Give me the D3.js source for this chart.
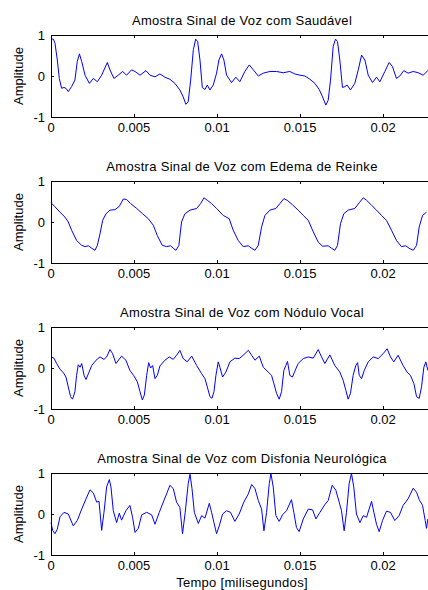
<!DOCTYPE html>
<html>
<head>
<meta charset="utf-8" />
<title>Amostras de sinal de voz</title>
<style>
  body { margin: 0; background: #fff; }
  svg text { font-family: "Liberation Sans", Arial, Helvetica, sans-serif; font-size: 13px; fill: #000; }
  svg text.titulo { letter-spacing: 0.3px; }
</style>
</head>
<body>
<svg width="428" height="590"></svg>
<script src="https://cdn.jsdelivr.net/npm/d3@7/dist/d3.min.js"></script>
<script>
// tempo em ms, amplitude
var saudavel = [[0,0.90],[0.14,0.90],[0.24,0.80],[0.38,0.39],[0.50,-0.06],[0.64,-0.30],[0.78,-0.28],[0.90,-0.30],[1.04,-0.38],[1.24,-0.26],[1.44,-0.10],[1.58,0.35],[1.71,0.54],[1.85,0.35],[2.05,0.02],[2.31,-0.18],[2.55,-0.06],[2.79,-0.14],[3.05,0.02],[3.39,0.33],[3.55,0.15],[3.79,-0.06],[4.05,0.02],[4.31,0.11],[4.55,0.02],[4.85,0.15],[5.06,0.11],[5.36,0.02],[5.72,0.13],[5.96,0.02],[6.26,-0.02],[6.56,0.05],[6.86,-0.03],[7.16,-0.08],[7.46,-0.18],[7.76,-0.34],[7.96,-0.51],[8.12,-0.69],[8.26,-0.63],[8.41,-0.10],[8.57,0.64],[8.71,0.90],[8.83,0.84],[8.97,0.39],[9.11,-0.28],[9.27,-0.33],[9.41,-0.22],[9.57,-0.34],[9.77,-0.22],[9.97,0.07],[10.11,0.39],[10.27,0.54],[10.41,0.39],[10.57,0.02],[10.87,-0.16],[11.13,-0.03],[11.37,-0.14],[11.67,0.11],[11.94,0.27],[12.18,0.15],[12.48,0.0],[12.78,0.07],[13.18,0.11],[13.58,0.11],[13.98,0.08],[14.38,0.11],[14.68,0.05],[14.99,0.02],[15.29,0.0],[15.59,-0.08],[15.89,-0.18],[16.15,-0.33],[16.35,-0.51],[16.55,-0.71],[16.69,-0.59],[16.83,-0.10],[16.99,0.72],[17.13,0.90],[17.25,0.84],[17.39,0.39],[17.55,-0.28],[17.69,-0.26],[17.83,-0.22],[18.03,-0.34],[18.29,-0.18],[18.50,0.15],[18.70,0.51],[18.90,0.39],[19.10,0.02],[19.36,-0.16],[19.60,-0.03],[19.80,-0.14],[20.10,0.11],[20.36,0.33],[20.56,0.23],[20.80,-0.06],[21.00,0.0],[21.24,0.13],[21.50,0.07],[21.81,0.11],[22.11,0.08],[22.41,0.02],[22.69,0.13]];

var edema = [[0,0.47],[0.24,0.37],[0.54,0.24],[0.84,0.12],[1.04,0.0],[1.24,-0.20],[1.54,-0.45],[1.85,-0.57],[2.05,-0.60],[2.25,-0.58],[2.45,-0.64],[2.65,-0.69],[2.79,-0.57],[2.95,-0.29],[3.11,0.04],[3.31,0.20],[3.55,0.29],[3.85,0.30],[4.11,0.38],[4.35,0.56],[4.55,0.55],[4.79,0.45],[5.16,0.33],[5.52,0.20],[5.86,0.08],[6.16,-0.08],[6.40,-0.33],[6.70,-0.57],[6.96,-0.60],[7.20,-0.58],[7.36,-0.64],[7.52,-0.69],[7.70,-0.57],[7.86,0.0],[8.06,0.20],[8.37,0.29],[8.77,0.33],[9.01,0.45],[9.21,0.59],[9.41,0.53],[9.67,0.45],[9.97,0.33],[10.37,0.16],[10.73,0.08],[10.97,-0.20],[11.27,-0.45],[11.57,-0.60],[11.88,-0.58],[12.08,-0.64],[12.28,-0.69],[12.48,-0.57],[12.68,-0.12],[12.88,0.16],[13.18,0.29],[13.54,0.33],[13.78,0.45],[14.02,0.57],[14.22,0.53],[14.54,0.42],[14.88,0.29],[15.19,0.16],[15.49,0.04],[15.79,-0.24],[16.09,-0.49],[16.35,-0.59],[16.69,-0.58],[16.89,-0.64],[17.09,-0.69],[17.25,-0.57],[17.43,-0.04],[17.63,0.20],[17.89,0.29],[18.29,0.33],[18.56,0.47],[18.80,0.59],[19.00,0.53],[19.30,0.41],[19.60,0.29],[19.90,0.16],[20.20,0.04],[20.50,-0.20],[20.80,-0.45],[21.10,-0.60],[21.36,-0.58],[21.56,-0.64],[21.81,-0.69],[22.01,-0.57],[22.17,-0.12],[22.37,0.16],[22.61,0.24]];

var nodulo = [[0,0.27],[0.18,0.24],[0.34,0.11],[0.54,-0.03],[0.74,-0.11],[0.90,-0.22],[1.04,-0.46],[1.18,-0.70],[1.30,-0.76],[1.44,-0.58],[1.54,-0.18],[1.64,0.08],[1.75,0.02],[1.85,0.11],[1.99,-0.18],[2.11,-0.28],[2.25,-0.14],[2.45,0.06],[2.71,0.19],[2.95,0.27],[3.19,0.21],[3.35,0.27],[3.55,0.45],[3.71,0.35],[3.91,0.11],[4.25,0.29],[4.51,0.19],[4.75,-0.06],[4.99,-0.19],[5.20,-0.34],[5.36,-0.58],[5.50,-0.78],[5.62,-0.66],[5.76,-0.18],[5.88,0.13],[6.00,0.0],[6.12,0.06],[6.26,-0.26],[6.40,-0.18],[6.56,0.05],[6.86,0.19],[7.12,0.27],[7.36,0.21],[7.56,0.31],[7.76,0.43],[7.96,0.23],[8.20,0.15],[8.47,0.29],[8.77,0.06],[9.07,-0.14],[9.27,-0.26],[9.41,-0.46],[9.57,-0.70],[9.69,-0.74],[9.81,-0.58],[9.93,-0.18],[10.07,0.15],[10.17,0.02],[10.33,-0.22],[10.53,-0.10],[10.77,0.15],[11.07,0.24],[11.33,0.23],[11.57,0.31],[11.88,0.43],[12.08,0.31],[12.28,0.19],[12.54,0.29],[12.78,0.02],[13.08,-0.10],[13.28,-0.18],[13.42,-0.38],[13.58,-0.62],[13.74,-0.76],[13.88,-0.58],[14.02,-0.06],[14.14,0.06],[14.24,0.16],[14.38,-0.18],[14.54,-0.22],[14.68,-0.08],[14.88,0.11],[15.19,0.23],[15.49,0.27],[15.79,0.24],[16.09,0.45],[16.29,0.27],[16.49,0.11],[16.79,0.32],[17.09,0.06],[17.39,-0.10],[17.59,-0.30],[17.75,-0.54],[17.89,-0.76],[18.03,-0.62],[18.19,-0.18],[18.35,0.06],[18.46,0.13],[18.56,-0.18],[18.70,-0.26],[18.86,-0.06],[19.10,0.15],[19.40,0.27],[19.70,0.23],[20.00,0.35],[20.24,0.47],[20.44,0.27],[20.64,0.15],[20.90,0.31],[21.20,0.06],[21.44,-0.10],[21.64,-0.18],[21.85,-0.38],[22.01,-0.70],[22.17,-0.74],[22.31,-0.46],[22.45,0.02],[22.57,0.15],[22.69,-0.06]];

var disfonia = [[0,-0.21],[0.10,-0.40],[0.24,-0.48],[0.38,-0.37],[0.54,-0.07],[0.78,0.04],[1.04,0.0],[1.34,-0.29],[1.58,-0.16],[1.85,0.12],[2.11,0.37],[2.35,0.59],[2.55,0.51],[2.75,0.29],[2.89,0.31],[3.05,-0.40],[3.19,0.04],[3.35,0.66],[3.51,0.84],[3.61,0.66],[3.75,0.08],[3.95,-0.21],[4.11,0.02],[4.25,-0.15],[4.51,0.08],[4.75,0.21],[4.91,-0.08],[5.06,-0.45],[5.26,-0.35],[5.46,-0.02],[5.76,0.04],[6.06,-0.02],[6.26,-0.25],[6.52,0.04],[6.76,0.29],[6.96,0.49],[7.16,0.70],[7.36,0.62],[7.56,0.29],[7.76,0.16],[7.92,-0.48],[8.08,0.04],[8.26,0.74],[8.37,0.97],[8.49,0.62],[8.63,0.04],[8.87,-0.23],[9.07,-0.04],[9.27,-0.10],[9.53,0.26],[9.67,0.04],[9.81,-0.21],[9.97,-0.48],[10.13,-0.29],[10.33,0.0],[10.57,0.08],[10.81,0.04],[11.07,-0.18],[11.33,0.0],[11.61,0.29],[11.88,0.49],[12.08,0.72],[12.28,0.62],[12.48,0.33],[12.68,0.12],[12.82,-0.41],[12.98,0.04],[13.14,0.74],[13.24,0.99],[13.38,0.66],[13.54,-0.04],[13.74,-0.18],[13.94,-0.02],[14.18,0.08],[14.48,0.35],[14.62,0.04],[14.78,-0.33],[14.94,-0.43],[15.19,-0.12],[15.49,0.12],[15.75,0.10],[15.95,-0.12],[16.19,0.04],[16.49,0.23],[16.69,0.33],[16.93,0.70],[17.15,0.58],[17.35,0.29],[17.49,0.08],[17.65,-0.41],[17.79,0.04],[17.95,0.74],[18.09,0.99],[18.23,0.66],[18.39,0.0],[18.60,-0.21],[18.80,-0.04],[19.00,-0.08],[19.30,0.31],[19.44,0.04],[19.60,-0.25],[19.76,-0.43],[19.96,-0.16],[20.20,0.07],[20.44,0.04],[20.70,-0.16],[20.96,-0.04],[21.20,0.21],[21.50,0.37],[21.81,0.63],[22.01,0.53],[22.17,0.35],[22.37,0.21],[22.53,-0.16],[22.61,-0.35],[22.69,-0.12]];

var titulos = [
    'Amostra Sinal de Voz com Saudável',
    'Amostra Sinal de Voz com Edema de Reinke',
    'Amostra Sinal de Voz com Nódulo Vocal',
    'Amostra Sinal de Voz com Disfonia Neurológica'
];
var sinais = [saudavel, edema, nodulo, disfonia];
var xTicks = [0, 0.005, 0.01, 0.015, 0.02];
var yTicks = [-1, 0, 1];

var esquerda = 51, largura = 382, altura = 82;
var topos = [35, 181, 327, 473];

var svg = d3.select('svg');

var x = d3.scaleLinear()
    .domain([0, 0.023])
    .range([esquerda, esquerda + largura]);

sinais.forEach(function (sinal, i) {
    var topo = topos[i];
    var y = d3.scaleLinear()
        .domain([-1, 1])
        .range([topo + altura, topo]);

    var g = svg.append('g');

    g.append('text')
        .attr('class', 'titulo')
        .attr('x', esquerda + largura / 2)
        .attr('y', topo - 10)
        .attr('text-anchor', 'middle')
        .text(titulos[i]);

    var linha = d3.line()
        .x(function (d) { return x(d[0] / 1000); })
        .y(function (d) { return y(d[1]); });

    g.append('path')
        .datum(sinal)
        .attr('fill', 'none')
        .attr('stroke', '#0000ff')
        .attr('stroke-width', 1)
        .attr('d', linha);

    // moldura
    g.append('rect')
        .attr('x', esquerda + 0.5)
        .attr('y', topo + 0.5)
        .attr('width', largura)
        .attr('height', altura)
        .attr('fill', 'none')
        .attr('stroke', '#000');

    // ticks para dentro, em baixo e em cima
    g.selectAll('.xt')
        .data(xTicks)
        .enter()
        .append('path')
        .attr('stroke', '#000')
        .attr('d', function (d) {
            var px = Math.round(x(d)) + 0.5;
            return 'M' + px + ',' + (topo + altura) + 'v-3M' + px + ',' + topo + 'v3';
        });

    g.selectAll('.yt')
        .data(yTicks)
        .enter()
        .append('path')
        .attr('stroke', '#000')
        .attr('d', function (d) {
            var py = Math.round(y(d)) + 0.5;
            return 'M' + esquerda + ',' + py + 'h3';
        });

    g.selectAll('.xl')
        .data(xTicks)
        .enter()
        .append('text')
        .attr('x', function (d) { return x(d); })
        .attr('y', topo + altura + 15)
        .attr('text-anchor', 'middle')
        .text(function (d) { return d3.format('')(d); });

    g.selectAll('.yl')
        .data(yTicks)
        .enter()
        .append('text')
        .attr('x', esquerda - 6)
        .attr('y', function (d) { return y(d); })
        .attr('dy', '0.35em')
        .attr('text-anchor', 'end')
        .text(function (d) { return d; });

    g.append('text')
        .attr('transform', 'translate(23,' + (topo + altura / 2) + ') rotate(-90)')
        .attr('text-anchor', 'middle')
        .text('Amplitude');
});

svg.append('text')
    .attr('class', 'titulo')
    .attr('x', esquerda + largura / 2)
    .attr('y', topos[3] + altura + 32)
    .attr('text-anchor', 'middle')
    .text('Tempo [milisegundos]');
</script>
</body>
</html>
